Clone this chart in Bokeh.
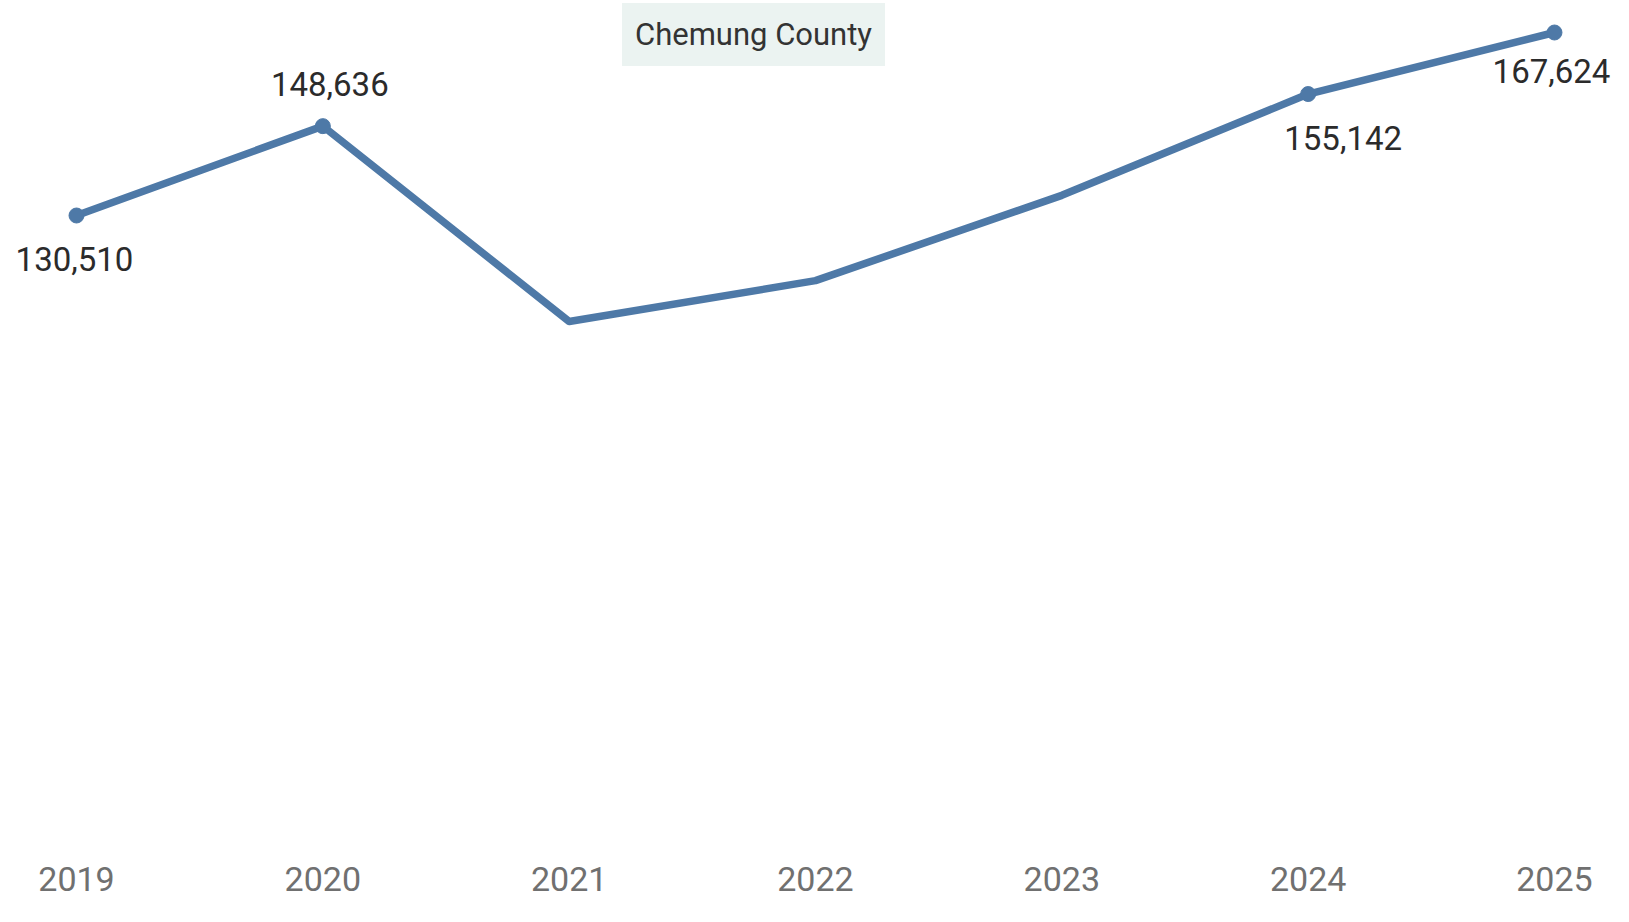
from bokeh.plotting import figure
from bokeh.models import ColumnDataSource, FixedTicker, Label, Range1d
from bokeh.core.properties import value
from bokeh.embed import file_html
from bokeh.resources import INLINE

# ---- data ----
years = [2019, 2020, 2021, 2022, 2023, 2024, 2025]
visitors = [130510, 148636, 109000, 117300, 134600, 155142, 167624]
labeled = [True, True, False, False, False, True, True]
title_text = "Chemung County"

# ---- label placement (screen px offsets) ----
label_dx = [-2, 7, 0, 0, 0, 35, -3]
label_dy = [43, -42, 0, 0, 0, 44, 38]

FONT = "Roboto"
LINE_COLOR = "#4e79a7"

sel = [i for i, f in enumerate(labeled) if f]
pts = ColumnDataSource(dict(
    x=[years[i] for i in sel],
    y=[visitors[i] for i in sel],
    txt=[f"{visitors[i]:,}" for i in sel],
    dx=[label_dx[i] for i in sel],
    dy=[label_dy[i] for i in sel],
))
line_src = ColumnDataSource(dict(x=years, y=visitors))

FRAME_W = 1613
FRAME_H = 860
px_per_year = 246.33
x_start = years[0] - 76 / px_per_year
x_end = x_start + FRAME_W / px_per_year
val_per_px = 202.81
y_start = visitors[0] - (FRAME_H - 215) * val_per_px
y_end = y_start + FRAME_H * val_per_px

p = figure(
    frame_width=FRAME_W, frame_height=FRAME_H,
    output_backend="svg", toolbar_location=None,
    x_range=Range1d(x_start, x_end),
    y_range=Range1d(y_start, y_end),
    min_border=0, min_border_left=0, min_border_right=0,
    min_border_top=0, min_border_bottom=46,
)
p.outline_line_color = None
p.xgrid.visible = False
p.ygrid.visible = False
p.yaxis.visible = False
p.background_fill_color = "white"

ax = p.xaxis[0]
ax.ticker = FixedTicker(ticks=years)
ax.axis_line_color = None
ax.major_tick_line_color = None
ax.minor_tick_line_color = None
ax.major_tick_out = 0
ax.major_tick_in = 0
ax.major_label_text_font = FONT
ax.major_label_text_font_size = "34px"
ax.major_label_text_color = "#707070"
ax.major_label_standoff = 6

p.line("x", "y", source=line_src, line_color=LINE_COLOR, line_width=7.5,
       line_join="round", line_cap="round")
p.scatter("x", "y", source=pts, size=15, fill_color=LINE_COLOR,
          line_color=LINE_COLOR)
p.text("x", "y", text="txt", source=pts, x_offset="dx", y_offset="dy",
       text_align="center", text_baseline="middle",
       text_font=value(FONT), text_font_size="33px", text_color="#2b2b2b")

title = Label(
    x=x_start + 753 / px_per_year, y=y_start + (FRAME_H - 34) * val_per_px,
    text=title_text,
    text_align="center", text_baseline="middle",
    text_font=FONT, text_font_size="31px", text_color="#333333",
    background_fill_color="#ebf3f1", padding=13,
)
p.add_layout(title)

open("out.html", "w").write(file_html(p, INLINE))
